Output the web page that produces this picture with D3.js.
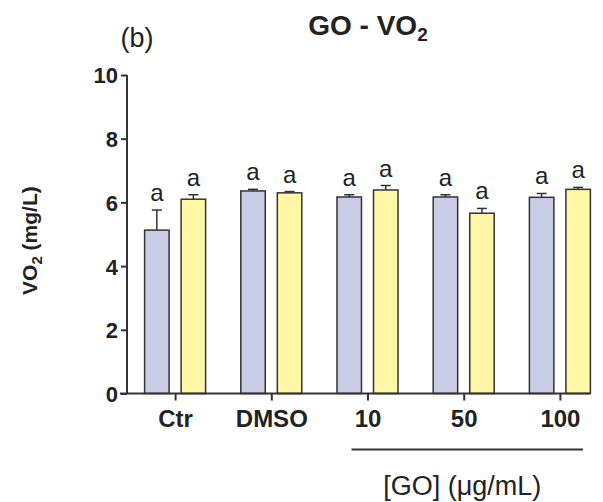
<!DOCTYPE html>
<html>
<head>
<meta charset="utf-8">
<script src="https://cdn.jsdelivr.net/npm/d3@7"></script>
<style>
  body { margin: 0; background: #fff; }
  text { font-family: "Liberation Sans", Arial, sans-serif; fill: #222; }
</style>
</head>
<body>
<svg id="chart" width="603" height="502"></svg>
<script>
var groups = ["Ctr", "DMSO", "10", "50", "100"];
var blueMeans = [5.13, 6.36, 6.17, 6.17, 6.16];
var blueErrs = [0.63, 0.05, 0.07, 0.07, 0.12];
var yellowMeans = [6.10, 6.30, 6.39, 5.66, 6.41];
var yellowErrs = [0.14, 0.04, 0.14, 0.15, 0.06];
var blueLetters = ["a", "a", "a", "a", "a"];
var yellowLetters = ["a", "a", "a", "a", "a"];
var yTicks = [0, 2, 4, 6, 8, 10];
var goGroups = ["10", "50", "100"];

var series = ["blue", "yellow"];
var colors = { blue: "#c8cce5", yellow: "#fff6a6" };

// build rows for drawing
var rows = [];
for (var i = 0; i < groups.length; i++) {
    rows.push({ group: groups[i], s: "blue", v: blueMeans[i], e: blueErrs[i], l: blueLetters[i] });
    rows.push({ group: groups[i], s: "yellow", v: yellowMeans[i], e: yellowErrs[i], l: yellowLetters[i] });
}

const svg = d3.select('#chart');
const axisColor = "#333";

let x = d3.scalePoint().domain(groups).range([127, 608]).padding(0.5);
let inner = d3.scaleBand().domain(series).range([-30.5, 30.5]).paddingInner(0.33).paddingOuter(0);
let y = d3.scaleLinear().domain([0, 10]).range([393.5, 75]);

// bars
svg.selectAll('.bar')
    .data(rows)
    .enter()
    .append('rect')
    .attr('class', 'bar')
    .attr('x', d => x(d.group) + inner(d.s))
    .attr('y', d => y(d.v))
    .attr('width', inner.bandwidth())
    .attr('height', d => y(0) - y(d.v))
    .attr('fill', d => colors[d.s])
    .attr('stroke', axisColor)
    .attr('stroke-width', 1.5);

// error bars (upper only)
var eb = svg.selectAll('.err').data(rows).enter().append('g').attr('class', 'err');
eb.append('line')
    .attr('x1', d => x(d.group) + inner(d.s) + inner.bandwidth() / 2)
    .attr('x2', d => x(d.group) + inner(d.s) + inner.bandwidth() / 2)
    .attr('y1', d => y(d.v))
    .attr('y2', d => y(d.v + d.e))
    .attr('stroke', axisColor).attr('stroke-width', 1.5);
eb.append('line')
    .attr('x1', d => x(d.group) + inner(d.s) + inner.bandwidth() / 2 - 5)
    .attr('x2', d => x(d.group) + inner(d.s) + inner.bandwidth() / 2 + 5)
    .attr('y1', d => y(d.v + d.e))
    .attr('y2', d => y(d.v + d.e))
    .attr('stroke', axisColor).attr('stroke-width', 1.5);

// significance letters
svg.selectAll('.letter')
    .data(rows)
    .enter()
    .append('text')
    .attr('class', 'letter')
    .attr('x', d => x(d.group) + inner(d.s) + inner.bandwidth() / 2)
    .attr('y', d => y(d.v + d.e) - 9)
    .attr('text-anchor', 'middle')
    .style('font-size', '24px')
    .text(d => d.l);

// y axis
let axisLeft = d3.axisLeft(y).tickValues(yTicks).tickSize(6).tickPadding(3);
const gy = svg.append('g').attr('transform', 'translate(127,0)').call(axisLeft);
gy.select('.domain').attr('stroke', axisColor).attr('stroke-width', 2)
    .attr('d', 'M0,' + y(10) + 'V' + y(0));
gy.selectAll('.tick line').attr('stroke', axisColor).attr('stroke-width', 2);
gy.selectAll('.tick text')
    .style('font-size', '22px').style('font-weight', 'bold')
    .attr('fill', '#222').attr('dy', '0.36em');

// x axis
let axisBottom = d3.axisBottom(x).tickSize(7).tickPadding(9);
const gx = svg.append('g').attr('transform', 'translate(0,' + y(0) + ')').call(axisBottom);
gx.select('.domain').attr('stroke', axisColor).attr('stroke-width', 2)
    .attr('d', 'M120,0H590');
gx.selectAll('.tick line').attr('stroke', axisColor).attr('stroke-width', 2);
gx.selectAll('.tick text')
    .style('font-size', '24px').style('font-weight', 'bold')
    .attr('fill', '#222');

// GO bracket
var bx0 = x(goGroups[0]) - 16;
var bx1 = x(goGroups[goGroups.length - 1]) + 23;
svg.append('line')
    .attr('x1', bx0).attr('x2', bx1)
    .attr('y1', 449.5).attr('y2', 449.5)
    .attr('stroke', axisColor).attr('stroke-width', 2);
svg.append('text')
    .attr('x', (bx0 + bx1) / 2 - 5).attr('y', 495)
    .attr('text-anchor', 'middle')
    .style('font-size', '27px')
    .text('[GO] (\u03bcg/mL)');

// y title
const yt = svg.append('text')
    .attr('transform', 'translate(37,' + y(4.8) + ') rotate(-90)')
    .attr('text-anchor', 'middle')
    .style('font-size', '21px').style('font-weight', 'bold');
yt.append('tspan').text('VO');
yt.append('tspan').text('2').style('font-size', '15px').attr('dy', 5);
yt.append('tspan').text(' (mg/L)').attr('dy', -5);

// title
const tt = svg.append('text')
    .attr('x', 368).attr('y', 35)
    .attr('text-anchor', 'middle')
    .style('font-size', '28px').style('font-weight', 'bold');
tt.append('tspan').text('GO - VO');
tt.append('tspan').text('2').style('font-size', '19px').attr('dy', 6);

svg.append('text')
    .attr('x', 137).attr('y', 47)
    .attr('text-anchor', 'middle')
    .style('font-size', '27px')
    .text('(b)');
</script>
</body>
</html>
